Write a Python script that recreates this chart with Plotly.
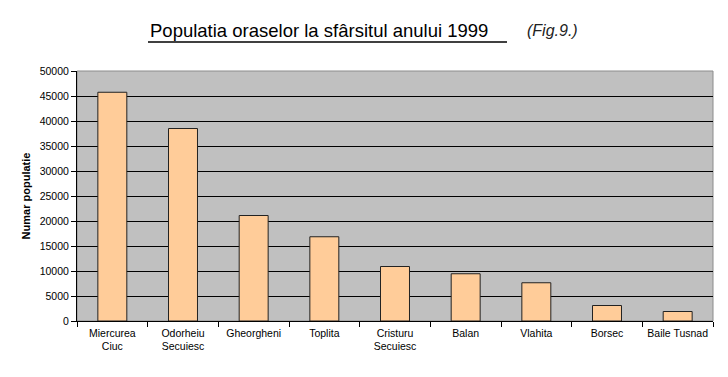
import plotly.graph_objects as go

categories = ["Miercurea<br>Ciuc", "Odorheiu<br>Secuiesc", "Gheorgheni", "Toplita",
              "Cristuru<br>Secuiesc", "Balan", "Vlahita", "Borsec", "Baile Tusnad"]
population = [45750, 38500, 21100, 16850, 10900, 9450, 7650, 3100, 1900]
y_ticks = [0, 5000, 10000, 15000, 20000, 25000, 30000, 35000, 40000, 45000, 50000]

OFF = 8  # default page body margin
W, H = 728 - OFF, 377 - OFF
L, R, T, B = 77 - OFF, 15, 71 - OFF, 56
pw, ph = W - L - R, H - T - B

def px(x):
    return (x - OFF - L) / pw

def py(y):
    return (H - B - (y - OFF)) / ph

fig = go.Figure(go.Bar(
    x=categories, y=population,
    marker=dict(color="#FFCC99", line=dict(color="#222222", width=1)),
))

fig.update_layout(
    width=W, height=H,
    margin=dict(l=L, r=R, t=T, b=B),
    paper_bgcolor="white", plot_bgcolor="#C0C0C0",
    bargap=0.59, showlegend=False,
    font=dict(family="Liberation Sans, Arial, sans-serif", color="black"),
)
fig.update_xaxes(
    type="category", tickson="boundaries", ticks="outside", ticklen=5,
    tickcolor="black", showline=True, linecolor="black", linewidth=1,
    tickfont=dict(size=10.5), showgrid=False, mirror=False, ticklabelstandoff=2,
)
fig.update_yaxes(
    range=[0, 50000], tickvals=y_ticks, ticktext=[str(v) for v in y_ticks],
    ticks="outside", ticklen=5, tickcolor="black",
    showline=True, linecolor="black", linewidth=1,
    gridcolor="black", gridwidth=1, zeroline=False,
    tickfont=dict(size=10.5),
    title=dict(text="<b>Numar populatie</b>", font=dict(size=11), standoff=6),
)
fig.add_shape(type="rect", xref="paper", yref="paper", x0=0, y0=0, x1=1, y1=1,
              line=dict(color="#8c8c8c", width=1), layer="below")
fig.add_annotation(text="Populatia oraselor la sfârsitul anului 1999",
                   xref="paper", yref="paper", x=px(148), y=py(30), xanchor="left",
                   yanchor="middle", showarrow=False, font=dict(size=18.5, color="black"))
fig.add_shape(type="line", xref="paper", yref="paper", x0=px(148), x1=px(507),
              y0=py(42), y1=py(42), line=dict(color="black", width=1.5))
fig.add_annotation(text="<i>(Fig.9.)</i>", xref="paper", yref="paper", x=px(525), y=py(30),
                   xanchor="left", yanchor="middle", showarrow=False,
                   font=dict(size=16, color="#222222"))

fig.write_html("out.html")
